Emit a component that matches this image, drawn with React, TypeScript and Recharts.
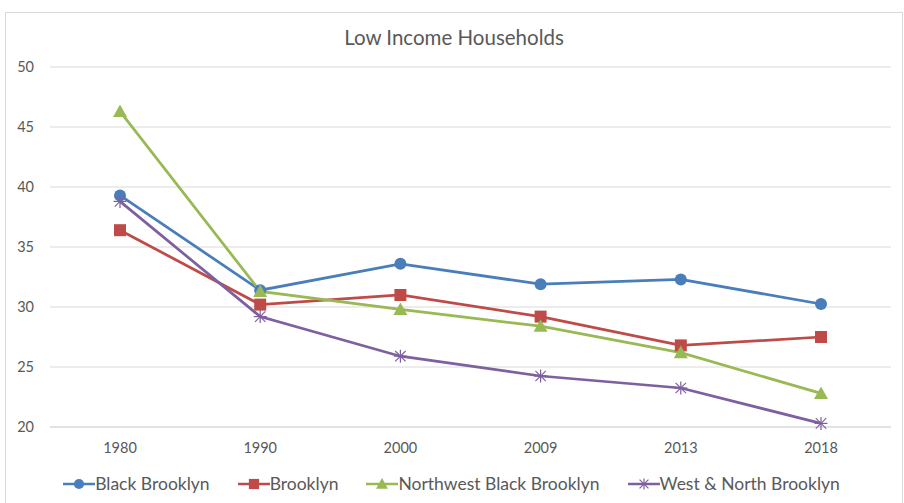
import React from 'react';
import { CartesianGrid, Legend, Line, LineChart, XAxis, YAxis } from 'recharts';

const years = ['1980', '1990', '2000', '2009', '2013', '2018'];
const blackBrooklyn = [39.3, 31.4, 33.6, 31.9, 32.3, 30.25];
const brooklyn = [36.4, 30.2, 31.0, 29.2, 26.8, 27.5];
const northwestBlack = [46.3, 31.3, 29.8, 28.4, 26.2, 22.8];
const westNorth = [38.8, 29.2, 25.9, 24.25, 23.25, 20.3];
const yTicks = [20, 25, 30, 35, 40, 45, 50];

const series = [
  { key: 'black', name: 'Black Brooklyn', color: '#4a7ebb', shape: 'circle' },
  { key: 'brooklyn', name: 'Brooklyn', color: '#be4b48', shape: 'square' },
  { key: 'northwest', name: 'Northwest Black Brooklyn', color: '#98b954', shape: 'triangle' },
  { key: 'westNorth', name: 'West & North Brooklyn', color: '#7d60a0', shape: 'star' },
];

const data = years.map((year, i) => ({
  year,
  black: blackBrooklyn[i],
  brooklyn: brooklyn[i],
  northwest: northwestBlack[i],
  westNorth: westNorth[i],
}));

const FONT = 'Lato, "Open Sans", sans-serif';

function Marker({ shape, color, cx, cy, s = 1 }: any) {
  if (cx == null || cy == null) return null;
  if (shape === 'circle') return <circle cx={cx} cy={cy} r={6 * s} fill={color} />;
  if (shape === 'square')
    return <rect x={cx - 6 * s} y={cy - 6 * s} width={12 * s} height={12 * s} fill={color} />;
  if (shape === 'triangle') {
    const h = 7 * s;
    return (
      <polygon
        points={`${cx},${cy - h} ${cx + h},${cy + h * 0.8} ${cx - h},${cy + h * 0.8}`}
        fill={color}
      />
    );
  }
  const r = 6.5 * s;
  return (
    <g stroke={color} strokeWidth={1.2}>
      <line x1={cx - r} y1={cy} x2={cx + r} y2={cy} />
      <line x1={cx} y1={cy - r} x2={cx} y2={cy + r} />
      <line x1={cx - r * 0.8} y1={cy - r * 0.8} x2={cx + r * 0.8} y2={cy + r * 0.8} />
      <line x1={cx - r * 0.8} y1={cy + r * 0.8} x2={cx + r * 0.8} y2={cy - r * 0.8} />
    </g>
  );
}

function renderLegend() {
  return (
    <div
      style={{
        display: 'flex',
        justifyContent: 'center',
        gap: 28,
        fontFamily: FONT,
        fontSize: 17.5,
        color: '#595959',
        marginLeft: 6,
      }}
    >
      {series.map((s) => (
        <div key={s.key} style={{ display: 'flex', alignItems: 'center' }}>
          <svg width={32} height={16}>
            <line x1={0} y1={8} x2={32} y2={8} stroke={s.color} strokeWidth={2.5} />
            <Marker shape={s.shape} color={s.color} cx={16} cy={8} s={0.85} />
          </svg>
          <span>{s.name}</span>
        </div>
      ))}
    </div>
  );
}

export default function App() {
  return (
    <div
      style={{
        position: 'absolute',
        left: 5,
        top: 12,
        width: 896,
        height: 492,
        border: '1px solid #d9d9d9',
        background: '#fff',
      }}
    >
      <div
        style={{
          position: 'absolute',
          top: 12,
          width: '100%',
          textAlign: 'center',
          fontFamily: FONT,
          fontSize: 20.5,
          color: '#595959',
        }}
      >
        Low Income Households
      </div>
      <LineChart
        width={894}
        height={490}
        data={data}
        margin={{ top: 54, right: 9, left: 0, bottom: 0 }}
      >
        <CartesianGrid vertical={false} stroke='#d9d9d9' strokeWidth={1} />
        <XAxis
          dataKey='year'
          axisLine={{ stroke: '#d9d9d9' }}
          tickLine={false}
          tickSize={0}
          tickMargin={16}
          height={46}
          padding={{ left: 70, right: 70 }}
          tick={{ fill: '#595959', fontSize: 14.5, fontFamily: FONT }}
        />
        <YAxis
          domain={[20, 50]}
          ticks={yTicks}
          axisLine={false}
          tickLine={false}
          tickSize={0}
          tickMargin={16}
          width={44}
          tick={{ fill: '#595959', fontSize: 14.5, fontFamily: FONT }}
        />
        <Legend verticalAlign='bottom' height={30} content={renderLegend} />
        {series.map((s) => (
          <Line
            key={s.key}
            dataKey={s.key}
            name={s.name}
            stroke={s.color}
            strokeWidth={2.75}
            isAnimationActive={false}
            dot={(p: any) => (
              <Marker key={`${s.key}-${p.index}`} shape={s.shape} color={s.color} cx={p.cx} cy={p.cy} />
            )}
          />
        ))}
      </LineChart>
    </div>
  );
}
